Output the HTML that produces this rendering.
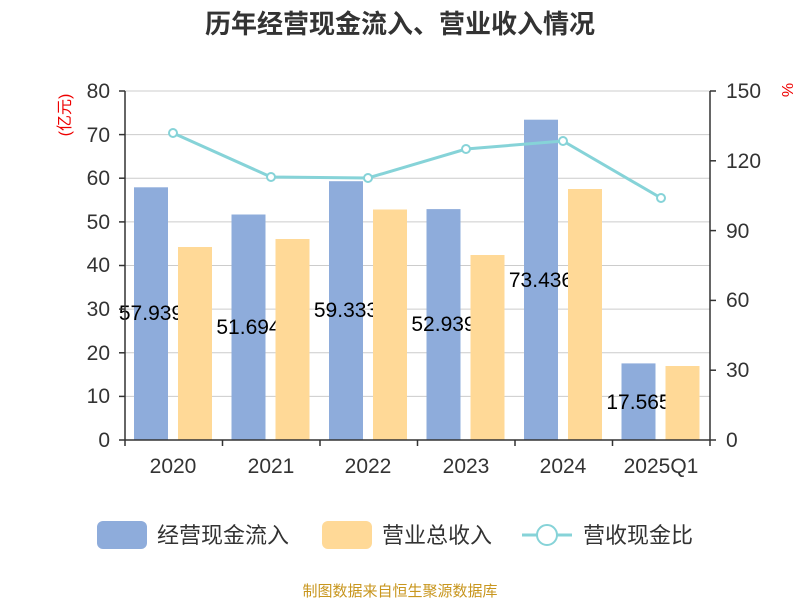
<!DOCTYPE html>
<html><head><meta charset="utf-8"><style>body{margin:0;background:#fff}svg{display:block}</style></head><body>
<svg width="800" height="600" xmlns="http://www.w3.org/2000/svg" font-family="Liberation Sans, Noto Sans CJK SC, sans-serif">
<text x="400" y="33" text-anchor="middle" font-size="26" font-weight="bold" fill="#333">历年经营现金流入、营业收入情况</text>
<g stroke="#ccc" stroke-width="1">
<line x1="125" x2="710" y1="91" y2="91"/><line x1="125" x2="710" y1="134.6" y2="134.6"/><line x1="125" x2="710" y1="178.2" y2="178.2"/><line x1="125" x2="710" y1="221.9" y2="221.9"/><line x1="125" x2="710" y1="265.5" y2="265.5"/><line x1="125" x2="710" y1="309.1" y2="309.1"/><line x1="125" x2="710" y1="352.8" y2="352.8"/><line x1="125" x2="710" y1="396.4" y2="396.4"/>
</g>
<g fill="#8eacdb">
<rect x="134" y="187.3" width="34" height="252.7"/>
<rect x="231.5" y="214.5" width="34" height="225.5"/>
<rect x="329" y="181.2" width="34" height="258.8"/>
<rect x="426.5" y="209.1" width="34" height="230.9"/>
<rect x="524" y="119.7" width="34" height="320.3"/>
<rect x="621.5" y="363.4" width="34" height="76.6"/>
</g>
<g font-size="21" fill="#000" text-anchor="middle">
<text x="151" y="320">57.939</text><text x="248.5" y="334">51.694</text><text x="346" y="317">59.333</text><text x="443.5" y="331">52.939</text><text x="541" y="287">73.436</text><text x="638.5" y="409">17.565</text>
</g>
<g fill="#ffd997">
<rect x="178" y="247" width="34" height="193"/>
<rect x="275.5" y="239" width="34" height="201"/>
<rect x="373" y="209.5" width="34" height="230.5"/>
<rect x="470.5" y="255" width="34" height="185"/>
<rect x="568" y="189" width="34" height="251"/>
<rect x="665.5" y="366" width="34" height="74"/>
</g>
<polyline points="173,133 271,177 368,178 466,149 563,141 661,198" fill="none" stroke="#86d3d8" stroke-width="3"/>
<g fill="#fff" stroke="#86d3d8" stroke-width="2">
<circle cx="173" cy="133" r="4"/><circle cx="271" cy="177" r="4"/><circle cx="368" cy="178" r="4"/><circle cx="466" cy="149" r="4"/><circle cx="563" cy="141" r="4"/><circle cx="661" cy="198" r="4"/>
</g>
<g stroke="#333" stroke-width="1.5">
<line x1="125" x2="125" y1="91" y2="440"/><line x1="710" x2="710" y1="91" y2="440"/><line x1="125" x2="710" y1="440" y2="440"/>
<line x1="119" x2="125" y1="91" y2="91"/><line x1="119" x2="125" y1="134.6" y2="134.6"/><line x1="119" x2="125" y1="178.2" y2="178.2"/><line x1="119" x2="125" y1="221.9" y2="221.9"/><line x1="119" x2="125" y1="265.5" y2="265.5"/><line x1="119" x2="125" y1="309.1" y2="309.1"/><line x1="119" x2="125" y1="352.8" y2="352.8"/><line x1="119" x2="125" y1="396.4" y2="396.4"/><line x1="119" x2="125" y1="440" y2="440"/>
<line x1="710" x2="716" y1="91" y2="91"/><line x1="710" x2="716" y1="160.8" y2="160.8"/><line x1="710" x2="716" y1="230.6" y2="230.6"/><line x1="710" x2="716" y1="300.4" y2="300.4"/><line x1="710" x2="716" y1="370.2" y2="370.2"/><line x1="710" x2="716" y1="440" y2="440"/>
<line x1="125" x2="125" y1="440" y2="446"/><line x1="222.5" x2="222.5" y1="440" y2="446"/><line x1="320" x2="320" y1="440" y2="446"/><line x1="417.5" x2="417.5" y1="440" y2="446"/><line x1="515" x2="515" y1="440" y2="446"/><line x1="612.5" x2="612.5" y1="440" y2="446"/><line x1="710" x2="710" y1="440" y2="446"/>
</g>
<g font-size="21" fill="#333" text-anchor="end">
<text x="110" y="98">80</text><text x="110" y="142">70</text><text x="110" y="185">60</text><text x="110" y="229">50</text><text x="110" y="272">40</text><text x="110" y="316">30</text><text x="110" y="360">20</text><text x="110" y="403">10</text><text x="110" y="447">0</text>
</g>
<g font-size="21" fill="#333" text-anchor="start">
<text x="726" y="98">150</text><text x="726" y="168">120</text><text x="726" y="238">90</text><text x="726" y="307">60</text><text x="726" y="377">30</text><text x="726" y="447">0</text>
</g>
<g font-size="21" fill="#333" text-anchor="middle">
<text x="173" y="473">2020</text><text x="271" y="473">2021</text><text x="368" y="473">2022</text><text x="466" y="473">2023</text><text x="563" y="473">2024</text><text x="661" y="473">2025Q1</text>
</g>
<text transform="translate(70,115) rotate(-90)" font-size="16" fill="#e00" text-anchor="middle">(亿元)</text>
<text transform="translate(782,90) rotate(90)" font-size="16" fill="#e00" text-anchor="middle">%</text>
<rect x="97" y="521" width="50" height="28" rx="6" fill="#8eacdb"/>
<text x="157" y="543" font-size="22" fill="#333">经营现金流入</text>
<rect x="322" y="521" width="50" height="28" rx="6" fill="#ffd997"/>
<text x="382" y="543" font-size="22" fill="#333">营业总收入</text>
<line x1="522" x2="572" y1="535" y2="535" stroke="#86d3d8" stroke-width="3"/>
<circle cx="547" cy="535" r="10" fill="#fff" stroke="#86d3d8" stroke-width="2"/>
<text x="583" y="543" font-size="22" fill="#333">营收现金比</text>
<text x="400" y="596" font-size="15" fill="#c8961e" text-anchor="middle">制图数据来自恒生聚源数据库</text>
</svg>
</body></html>
